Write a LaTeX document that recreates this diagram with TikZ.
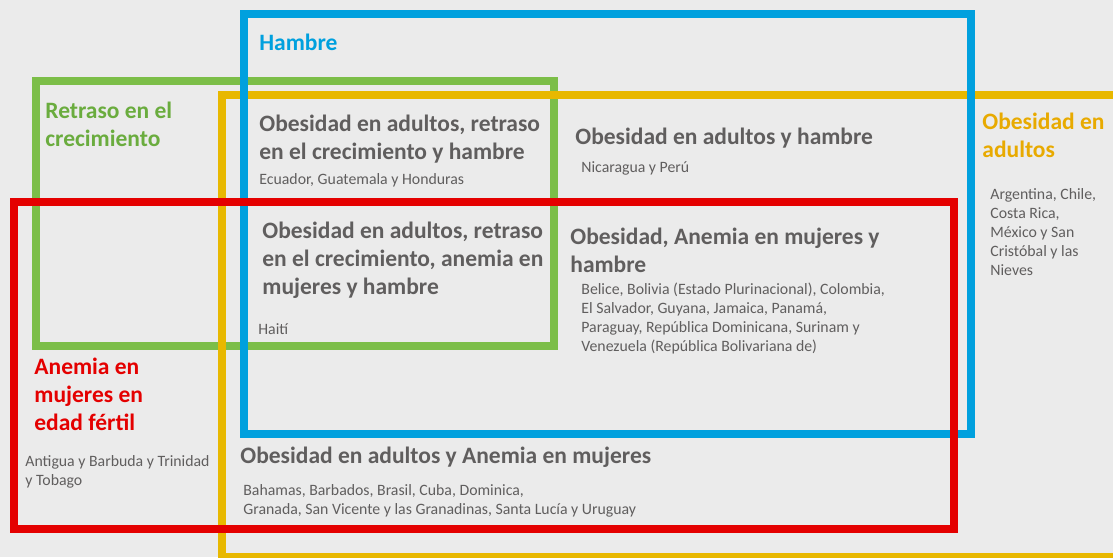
\documentclass[tikz,border=0pt]{standalone}
\usepackage{fontspec}
\setmainfont{Carlito}
\usepackage{tikz}

\definecolor{bggray}{RGB}{235,235,235}
\definecolor{hblue}{RGB}{0,160,222}
\definecolor{rgreen}{RGB}{124,190,72}
\definecolor{oyellow}{RGB}{232,184,0}
\definecolor{ared}{RGB}{228,0,0}
\definecolor{tgreen}{RGB}{106,172,62}
\definecolor{tyellow}{RGB}{232,170,0}
\definecolor{txtgray}{RGB}{96,94,94}

\begin{document}
\begin{tikzpicture}[x = 0.5pt, y = -0.5pt,
  box/.style = {line width = 4pt},
  title/.style = {anchor = base west, inner sep = 0, align = left, font = \bfseries\fontsize{11.75}{14}\selectfont},
  group/.style = {title, text = txtgray},
  land/.style = {anchor = base west, inner sep = 0, align = left, text = txtgray, font = \fontsize{7.9}{9.5}\selectfont}]
%\draw[very thin, color = gray](0, 0) grid[step = 50] (1113, 557);
% multi-line nodes: the base anchor sits on the last line
\fill [bggray] (0, 0) rectangle (1113, 557);
\clip (0, 0) rectangle (1113, 557);
\draw [box, rgreen] (36, 81) rectangle (554, 346);
\draw [box, oyellow] (221.5, 94.5) rectangle (1130, 557);
\draw [box, hblue] (244, 14) rectangle (971, 434);
\draw [box, ared] (14, 201.5) rectangle (954, 529);
\node (hambre) at (259, 50) [title, text = hblue] {Hambre};
\node (retraso) at (45, 146) [title, text = tgreen] {Retraso en el\\crecimiento};
\node (obesidad) at (982, 157) [title, text = tyellow] {Obesidad en\\adultos};
\node (anemia) at (34, 430) [title, text = ared] {Anemia en\\mujeres en\\edad fértil};
\node (orh) at (259, 159) [group] {Obesidad en adultos, retraso\\en el crecimiento y hambre};
\node (orhland) at (259, 184) [land] {Ecuador, Guatemala y Honduras};
\node (oh) at (575, 144) [group] {Obesidad en adultos y hambre};
\node (ohland) at (581, 172) [land] {Nicaragua y Perú};
\node (oland) at (990, 275) [land] {Argentina, Chile,\\Costa Rica,\\México y San\\Cristóbal y las\\Nieves};
\node (orah) at (262, 294) [group] {Obesidad en adultos, retraso\\en el crecimiento, anemia en\\mujeres y hambre};
\node (orahland) at (258, 334) [land] {Haití};
\node (oah) at (570, 272) [group] {Obesidad, Anemia en mujeres y\\hambre};
\node (oahland) at (581, 351) [land] {Belice, Bolivia (Estado Plurinacional), Colombia,\\El Salvador, Guyana, Jamaica, Panamá,\\Paraguay, República Dominicana, Surinam y\\Venezuela (República Bolivariana de)};
\node (aland) at (25, 485) [land] {Antigua y Barbuda y Trinidad\\y Tobago};
\node (oa) at (240, 463) [group] {Obesidad en adultos y Anemia en mujeres};
\node (oaland) at (243, 514) [land] {Bahamas, Barbados, Brasil, Cuba, Dominica,\\Granada, San Vicente y las Granadinas, Santa Lucía y Uruguay};
\end{tikzpicture}
\end{document}
